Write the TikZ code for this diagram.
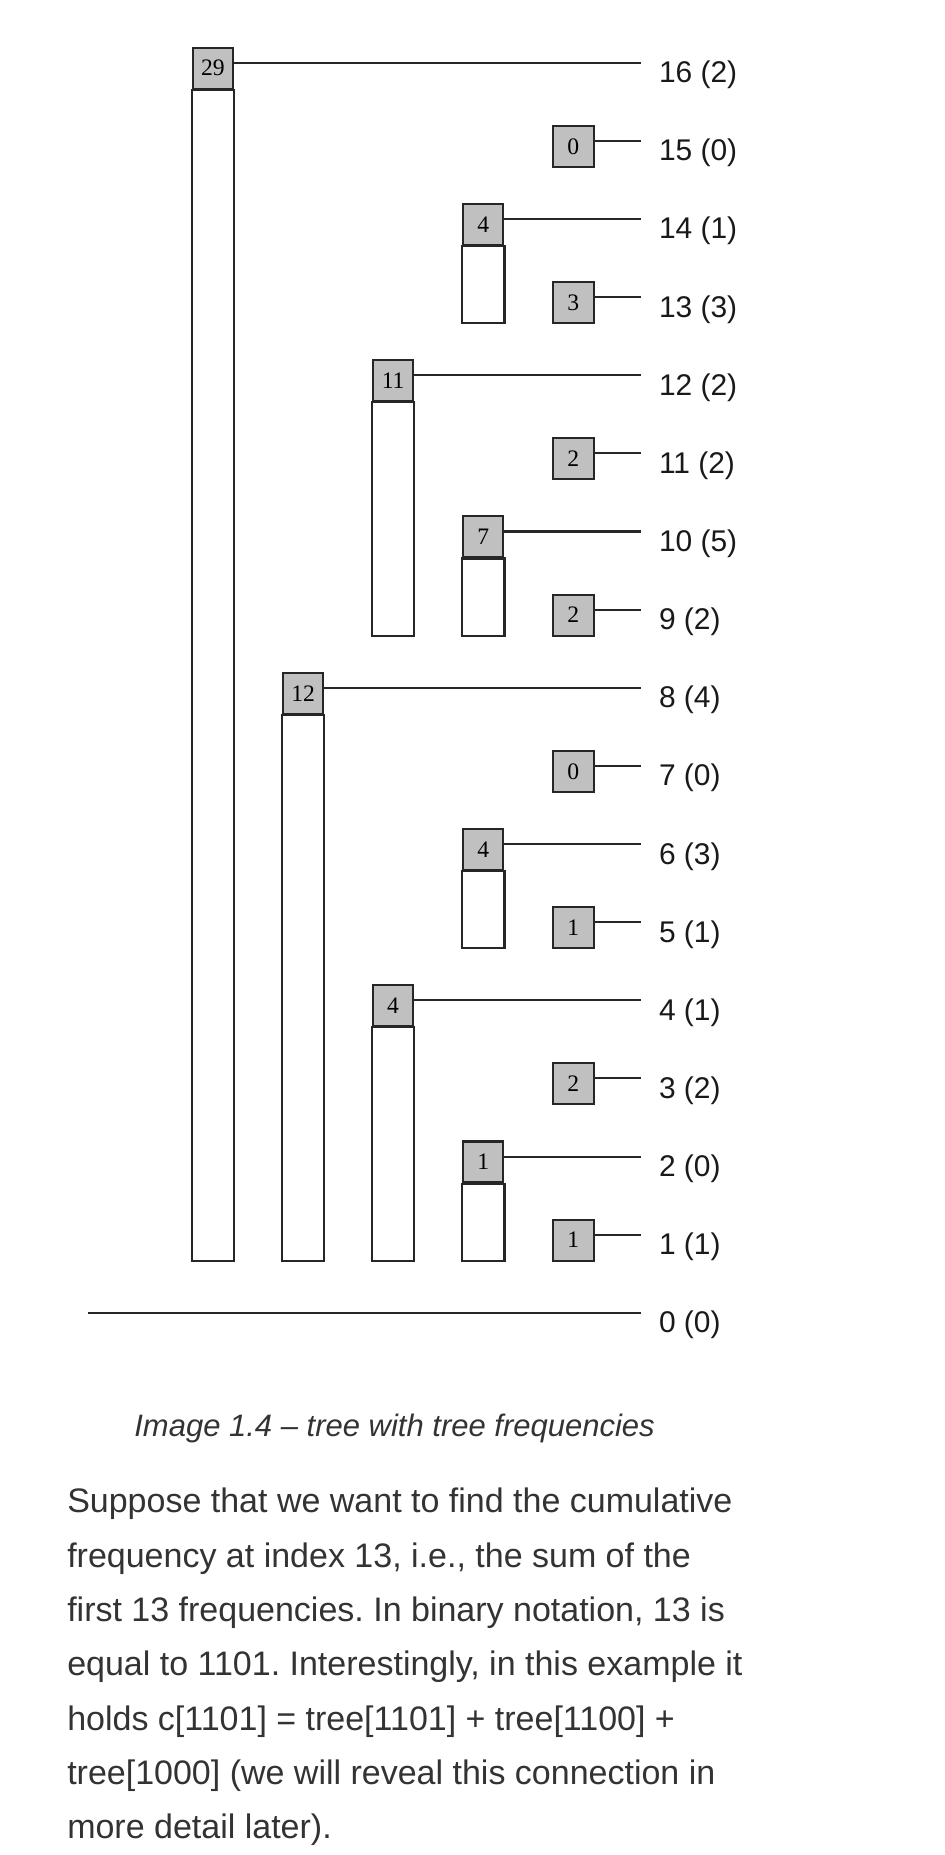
\documentclass[tikz,border=0pt]{standalone}
\usepackage{fontspec}
\setmainfont{Liberation Sans}
\newfontfamily\cellfont{Liberation Serif}
\definecolor{txt}{HTML}{333333}
\definecolor{cellgray}{HTML}{C0C0C0}
\frenchspacing
\begin{document}
\begin{tikzpicture}[
  cell/.style={draw=black!85,fill=cellgray,line width=0.75pt,minimum width=0.518cm,minimum height=0.525cm,inner sep=0pt,font=\cellfont\fontsize{8.6}{10}\selectfont},
  stem/.style={draw=black!85,line width=0.75pt},
  freq/.style={anchor=base west,inner xsep=0.224cm,inner ysep=0pt,font=\fontsize{10.9}{13}\selectfont,text=black!90},
  link/.style={line width=0.75pt,black!85}]
\useasboundingbox (0,-6.94) rectangle (12.095,16.803);
%labels
\foreach \r/\f in {16/2,15/0,14/1,13/3,12/2,11/2,10/5,9/2,8/4,7/0,6/3,5/1,4/1,3/2,2/0,1/1,0/0}{
  \coordinate (r\r) at (0,\r);
  \node[freq] (l\r) at (8.204,\r-0.256) {\r\ (\f)};
}
%tall cells
\foreach \r/\v/\x/\lo in {16/29/2.726/1,8/12/3.879/1,12/11/5.032/9,4/4/5.032/1,14/4/6.185/13,10/7/6.185/9,6/4/6.185/5,2/1/6.185/1}{
  \node[cell] (n\r) at (\x,\r-0.07) {\v};
  \draw[stem] (n\r.south west) rectangle (n\r.east |- 0,\lo-0.333);
  \draw[link] (n\r.east |- r\r) -- (l\r.west |- r\r);
}
%small cells
\foreach \r/\v in {15/0,13/3,11/2,9/2,7/0,5/1,3/2,1/1}{
  \node[cell] (n\r) at (7.338,\r-0.07) {\v};
  \draw[link] (n\r.east |- r\r) -- (l\r.west |- r\r);
}
%zero
\coordinate (s0) at (1.12,0);
\draw[link] (s0) -- (l0.west |- r0);
%text
\node[anchor=base,text=txt,font=\itshape\fontsize{11.29}{14}\selectfont] (cap) at (5.05,-1.577) {Image 1.4 – tree with tree frequencies};
\node[anchor=base west,inner sep=0pt,align=left,text=txt,font=\fontsize{12.38}{19.8}\selectfont] (body) at (0.854,-6.735)
  {Suppose that we want to find the cumulative\\
   frequency at index 13, i.e., the sum of the\\
   first 13 frequencies. In binary notation, 13 is\\
   equal to 1101. Interestingly, in this example it\\
   holds c[1101] = tree[1101] + tree[1100] +\\
   tree[1000] (we will reveal this connection in\\
   more detail later).};
\end{tikzpicture}
\end{document}
